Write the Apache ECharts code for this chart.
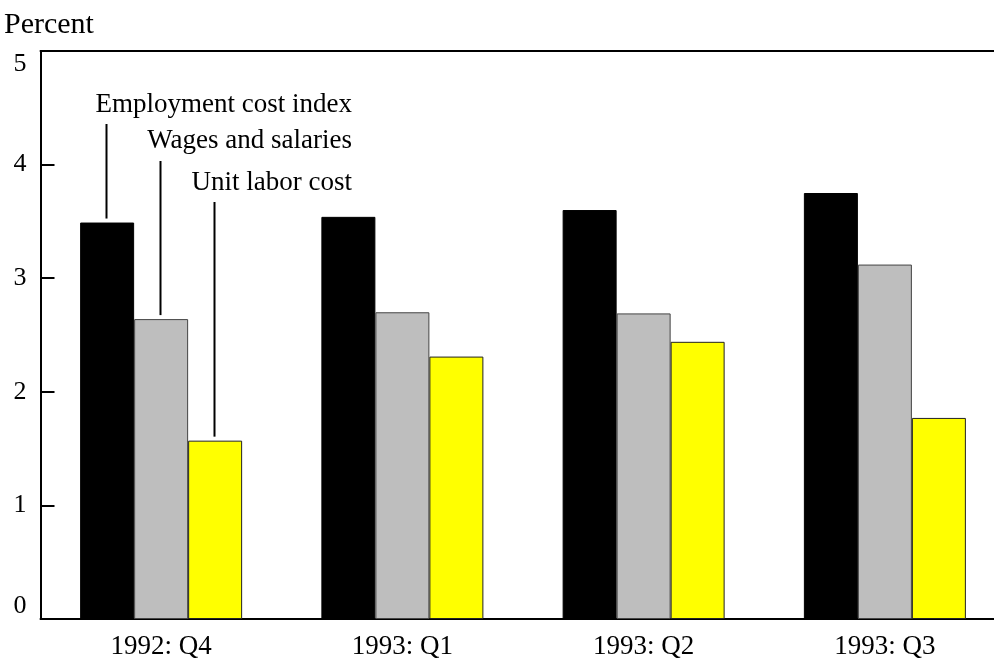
<!DOCTYPE html>
<html>
<head>
<meta charset="utf-8">
<script src="https://cdn.jsdelivr.net/npm/echarts@6/dist/echarts.min.js"></script>
<style>
html,body{margin:0;padding:0;background:#fff;overflow:hidden;width:994px;height:667px;}
#main{width:1010px;height:667px;}
</style>
</head>
<body>
<div id="main"></div>
<script>
const categories = ['1992: Q4', '1993: Q1', '1993: Q2', '1993: Q3'];
const employmentCostIndex = [3.49, 3.54, 3.60, 3.75];
const wagesAndSalaries = [2.64, 2.70, 2.69, 3.12];
const unitLaborCost = [1.57, 2.31, 2.44, 1.77];
const seriesNames = ['Employment cost index', 'Wages and salaries', 'Unit labor cost'];
const yTicks = [0, 1, 2, 3, 4, 5];

const FONT = '"Liberation Serif", "Times New Roman", serif';
const chart = echarts.init(document.getElementById('main'), null, {renderer: 'canvas'});

const grid = {left: 40.5, top: 51, width: 965, height: 568};

chart.setOption({
  animation: false,
  backgroundColor: '#fff',
  grid: grid,
  xAxis: [{
    type: 'category',
    data: categories,
    position: 'bottom',
    axisLine: {lineStyle: {color: '#000', width: 2}},
    axisTick: {alignWithLabel: true, length: 13, lineStyle: {color: '#000', width: 2}},
    axisLabel: {color: '#000', fontFamily: FONT, fontSize: 27, margin: 14}
  }, {
    type: 'category',
    data: categories,
    position: 'top',
    axisLine: {show: true, lineStyle: {color: '#000', width: 2}},
    axisTick: {show: false},
    axisLabel: {show: false}
  }],
  yAxis: {
    type: 'value',
    min: yTicks[0],
    max: yTicks[yTicks.length - 1],
    interval: 1,
    axisLine: {show: true, lineStyle: {color: '#000', width: 2}},
    axisTick: {show: true, inside: true, length: 14, lineStyle: {color: '#000', width: 2}},
    splitLine: {show: false},
    axisLabel: {
      color: '#000', fontFamily: FONT, fontSize: 26, margin: 14,
      verticalAlignMinLabel: 'bottom', verticalAlignMaxLabel: 'top'
    }
  },
  series: [{
    name: seriesNames[0], type: 'bar', data: employmentCostIndex,
    barWidth: 54, barGap: '0%',
    itemStyle: {color: '#000', borderColor: '#000', borderWidth: 1}
  }, {
    name: seriesNames[1], type: 'bar', data: wagesAndSalaries,
    barWidth: 54, barGap: '0%',
    itemStyle: {color: '#bebebe', borderColor: '#444', borderWidth: 1}
  }, {
    name: seriesNames[2], type: 'bar', data: unitLaborCost,
    barWidth: 54, barGap: '0%',
    itemStyle: {color: '#ffff00', borderColor: '#222', borderWidth: 1}
  }]
});

// Annotations: leader lines from labels to the first group's bars
const labelY = [105, 141, 183];
const lineStartY = [124, 161, 202];
const seriesData = [employmentCostIndex, wagesAndSalaries, unitLaborCost];
const offsets = [-54, 0, 54];
const c0 = chart.convertToPixel({xAxisIndex: 0}, categories[0]);
const graphics = [];
graphics.push({
  type: 'text',
  style: {text: 'Percent', x: 4, y: 25, font: '30px ' + FONT, fill: '#000', textVerticalAlign: 'middle'}
});
for (let i = 0; i < 3; i++) {
  const barTop = chart.convertToPixel({yAxisIndex: 0}, seriesData[i][0]);
  const x = Math.round(c0 + offsets[i] - 1.5) + 0.5;
  graphics.push({
    type: 'text',
    style: {
      text: seriesNames[i], x: 352, y: labelY[i],
      font: '27px ' + FONT, fill: '#000',
      textAlign: 'right', textVerticalAlign: 'middle'
    }
  });
  graphics.push({
    type: 'line',
    shape: {x1: x, y1: lineStartY[i], x2: x, y2: barTop - 4},
    style: {stroke: '#000', lineWidth: 2}
  });
}
chart.setOption({graphic: graphics});
</script>
</body>
</html>
